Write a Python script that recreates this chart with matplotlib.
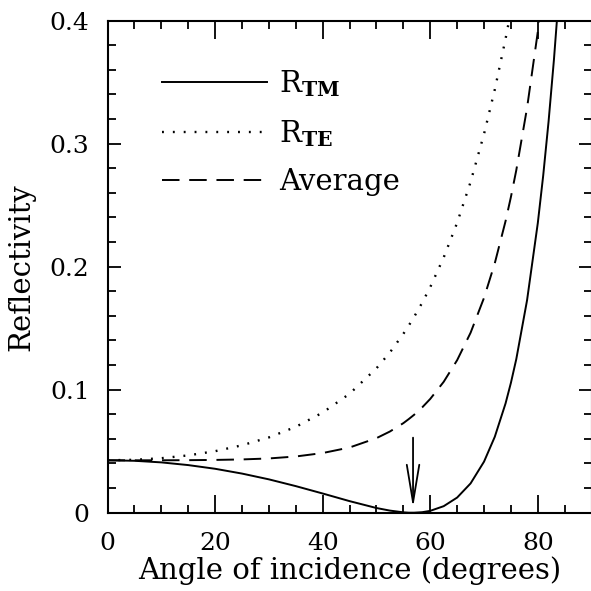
import matplotlib
matplotlib.use("Agg")
import matplotlib.pyplot as plt
from matplotlib.ticker import MultipleLocator

# reflectivity (glass, n ~ 1.52)
angles = [0, 5, 10, 15, 20, 25, 30, 35, 40, 45, 50, 52.5, 55, 56, 57, 58.5, 60,
          62.5, 65, 67.5, 70, 72, 74, 75, 76, 78, 80, 81, 82, 83, 84]
r_tm = [0.0426, 0.0422, 0.0409, 0.0387, 0.0357, 0.0318, 0.0271, 0.0216, 0.0156,
        0.0094, 0.0038, 0.0017, 0.0003, 0.0000, 0.0000, 0.0004, 0.0015, 0.0053,
        0.0123, 0.0238, 0.0415, 0.0617, 0.0888, 0.1056, 0.1249, 0.1727, 0.2355,
        0.2740, 0.3180, 0.3684, 0.4261]
r_te = [0.0426, 0.0430, 0.0443, 0.0466, 0.0500, 0.0548, 0.0612, 0.0698, 0.0814,
        0.0967, 0.1174, 0.1303, 0.1454, 0.1521, 0.1592, 0.1707, 0.1834, 0.2075,
        0.2357, 0.2689, 0.3079, 0.3440, 0.3852, 0.4079, 0.4321, 0.4855, 0.5464,
        0.5799, 0.6156, 0.6537, 0.6944]
average = [0.0426, 0.0426, 0.0426, 0.0427, 0.0429, 0.0433, 0.0441, 0.0457, 0.0485,
           0.0530, 0.0606, 0.0660, 0.0728, 0.0761, 0.0796, 0.0856, 0.0925, 0.1064,
           0.1240, 0.1463, 0.1747, 0.2028, 0.2370, 0.2567, 0.2785, 0.3291, 0.3910,
           0.4269, 0.4668, 0.5111, 0.5603]
labels = [r'R$_{\mathbf{TM}}$', r'R$_{\mathbf{TE}}$', 'Average']
brewster_angle = 56.8
arrow_top, arrow_tip = 0.061, 0.004
xticks = [0, 20, 40, 60, 80]
yticks = [0, 0.1, 0.2, 0.3, 0.4]
ytick_labels = ['0', '0.1', '0.2', '0.3', '0.4']

plt.rcParams['font.family'] = 'DejaVu Serif'
plt.rcParams['mathtext.fontset'] = 'dejavuserif'

fig = plt.figure(figsize=(5.91, 5.91), dpi=100)
ax = fig.add_axes([0.182, 0.1325, 0.819, 0.8325])

ax.plot(angles, r_tm, color='black', lw=1.4, label=labels[0])
ax.plot(angles, r_te, color='black', lw=1.7, linestyle=(0, (0.8, 3.8)), label=labels[1])
ax.plot(angles, average, color='black', lw=1.4, linestyle=(0, (9, 5)), label=labels[2])

ax.annotate('', xy=(brewster_angle, arrow_tip), xytext=(brewster_angle, arrow_top),
            arrowprops=dict(arrowstyle='->,head_length=2.7,head_width=0.45',
                            lw=1.3, color='black', shrinkA=0, shrinkB=0))

ax.set_xlim(0, 90)
ax.set_ylim(0, 0.4)
ax.set_xticks(xticks)
ax.set_yticks(yticks)
ax.set_yticklabels(ytick_labels)
ax.xaxis.set_minor_locator(MultipleLocator(5))
ax.yaxis.set_minor_locator(MultipleLocator(0.02))
ax.tick_params(which='both', direction='in', top=True, right=True, width=1.3,
               labelsize=18, colors='black')
ax.tick_params(axis='x', which='major', length=13, pad=14)
ax.tick_params(axis='x', which='minor', length=6)
ax.tick_params(axis='y', which='major', length=9.5, pad=13)
ax.tick_params(axis='y', which='minor', length=6)
for sp in ax.spines.values():
    sp.set_linewidth(1.5)

ax.set_xlabel('Angle of incidence (degrees)', fontsize=21, labelpad=1)
ax.set_ylabel('Reflectivity', fontsize=21, labelpad=10)

ax.legend(loc='upper left', bbox_to_anchor=(0.088, 0.928), frameon=False,
          fontsize=21, handlelength=3.6, handletextpad=0.41, labelspacing=0.67,
          borderaxespad=0)

fig.savefig('out.png', dpi=100)
